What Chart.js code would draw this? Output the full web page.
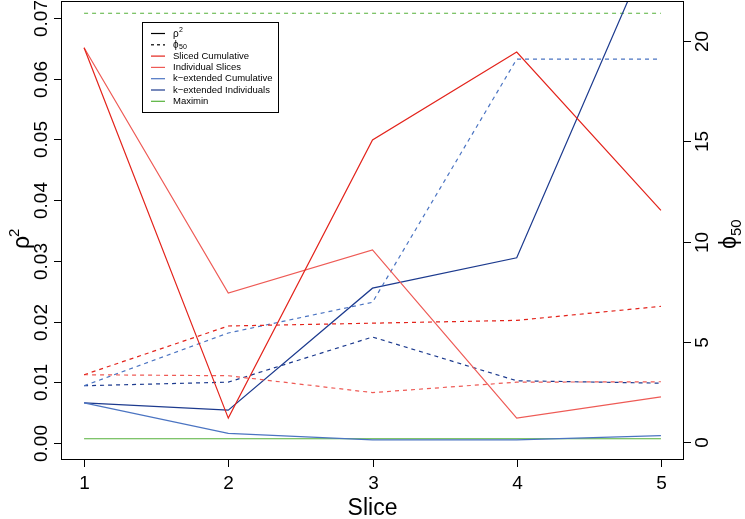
<!DOCTYPE html>
<html>
<head>
<meta charset="utf-8">
<script src="https://cdn.jsdelivr.net/npm/chart.js@4.4.1/dist/chart.umd.min.js"></script>
<style>
html,body{margin:0;padding:0;background:#fff;}
#wrap{width:745px;height:519px;}
</style>
</head>
<body>
<div id="wrap"><canvas id="grafico"></canvas></div>
<script>
// datos (rho^2 eje izq, phi50 eje der)
var slices = [1, 2, 3, 4, 5];

var rhoSlicedCum   = [0.0651, 0.0041, 0.0499, 0.0644, 0.0383];
var rhoIndivSlices = [0.0651, 0.0247, 0.0318, 0.0041, 0.0076];
var rhoKextCum     = [0.0066, 0.0016, 0.0005, 0.0005, 0.0012];
var rhoKextIndiv   = [0.0066, 0.0054, 0.0255, 0.0305, 0.0854];
var rhoMaximin     = [0.0007, 0.0007, 0.0007, 0.0007, 0.0007];

var phiSlicedCum   = [3.37, 5.80, 5.94, 6.08, 6.78];
var phiIndivSlices = [3.37, 3.32, 2.48, 3.00, 3.02];
var phiKextCum     = [2.82, 5.45, 6.98, 19.1, 19.1];
var phiKextIndiv   = [2.82, 3.00, 5.25, 3.07, 2.95];
var phiMaximin     = [21.39, 21.39, 21.39, 21.39, 21.39];

var xTicks   = [1, 2, 3, 4, 5];
var rhoTicks = ['0.00', '0.01', '0.02', '0.03', '0.04', '0.05', '0.06', '0.07'];
var phiTicks = ['0', '5', '10', '15', '20'];

var legendNames = ['Sliced Cumulative', 'Individual Slices', 'k\u2212extended Cumulative', 'k\u2212extended Individuals', 'Maximin'];
var colores = ['#E3231B', '#EE5A55', '#4B74C2', '#1C3A8E', '#55B13A'];

function pts(arr){
	var out = [];
	for (var i in arr) out.push({x: slices[i], y: arr[i]});
	return out;
}

function serie(arr, color, eje, dashed){
	return {
		data: pts(arr),
		borderColor: color,
		borderWidth: 1.2,
		borderDash: dashed ? [4, 4] : [],
		pointRadius: 0,
		tension: 0,
		fill: false,
		clip: 0,
		yAxisID: eje
	};
}

var rhoSeries = [rhoSlicedCum, rhoIndivSlices, rhoKextCum, rhoKextIndiv, rhoMaximin];
var phiSeries = [phiSlicedCum, phiIndivSlices, phiKextCum, phiKextIndiv, phiMaximin];
var datasets = [];
for (var i = 0; i < 5; i++) {
	datasets.push(serie(rhoSeries[i], colores[i], 'y', false));
	datasets.push(serie(phiSeries[i], colores[i], 'y2', true));
}

var FONT = '"Liberation Sans", Arial, Helvetica, sans-serif';

function rotText(ctx, txt, x, y){
	ctx.save();
	ctx.translate(x, y);
	ctx.rotate(-Math.PI / 2);
	ctx.fillText(txt, 0, 0);
	ctx.restore();
}

var dibujoR = {
	id: 'dibujoR',
	afterDraw: function(chart){
		var ctx = chart.ctx;
		var a = chart.chartArea;
		var sx = chart.scales.x, sy = chart.scales.y, sy2 = chart.scales.y2;
		ctx.save();
		ctx.strokeStyle = '#000';
		ctx.fillStyle = '#000';
		ctx.lineWidth = 1;
		ctx.setLineDash([]);
		// caja
		ctx.strokeRect(a.left + 0.5, a.top + 0.5, a.right - a.left - 1, a.bottom - a.top - 1);

		ctx.font = '19px ' + FONT;
		ctx.textAlign = 'center';
		ctx.textBaseline = 'middle';
		// eje x
		for (var i in xTicks) {
			var px = Math.round(sx.getPixelForValue(xTicks[i])) + 0.5;
			ctx.beginPath(); ctx.moveTo(px, a.bottom); ctx.lineTo(px, a.bottom + 7); ctx.stroke();
			ctx.fillText(String(xTicks[i]), px, a.bottom + 24);
		}
		// eje izq
		for (var j in rhoTicks) {
			var py = Math.round(sy.getPixelForValue(parseFloat(rhoTicks[j]))) + 0.5;
			ctx.beginPath(); ctx.moveTo(a.left - 7, py); ctx.lineTo(a.left, py); ctx.stroke();
			rotText(ctx, rhoTicks[j], a.left - 19, py);
		}
		// eje der
		for (var k in phiTicks) {
			var py2 = Math.round(sy2.getPixelForValue(parseFloat(phiTicks[k]))) + 0.5;
			ctx.beginPath(); ctx.moveTo(a.right, py2); ctx.lineTo(a.right + 7, py2); ctx.stroke();
			rotText(ctx, phiTicks[k], a.right + 19, py2);
		}

		// titulos
		ctx.font = '23px ' + FONT;
		ctx.fillText('Slice', (a.left + a.right) / 2, a.bottom + 49);

		// rho^2
		ctx.save();
		ctx.translate(20, 240);
		ctx.rotate(-Math.PI / 2);
		ctx.font = '23px ' + FONT;
		ctx.textAlign = 'left';
		ctx.fillText('\u03C1', -9, 3);
		ctx.font = '15px ' + FONT;
		ctx.fillText('2', 3, -5);
		ctx.restore();

		// phi50
		ctx.save();
		ctx.translate(732, 235);
		ctx.rotate(-Math.PI / 2);
		ctx.font = '23px ' + FONT;
		ctx.textAlign = 'left';
		ctx.fillText('\u03D5', -14, -2);
		ctx.font = '15px ' + FONT;
		ctx.fillText('50', -1, 5);
		ctx.restore();

		// leyenda
		var lx = 142, ly = 22, lw = 136, lh = 90;
		ctx.lineWidth = 1;
		ctx.strokeRect(lx + 0.5, ly + 0.5, lw, lh);
		var filas = [
			{txt: 'rho', color: '#000', dash: []},
			{txt: 'phi', color: '#000', dash: [3, 3]}
		];
		for (var n = 0; n < legendNames.length; n++) filas.push({txt: legendNames[n], color: colores[n], dash: []});
		ctx.textAlign = 'left';
		for (var r = 0; r < filas.length; r++) {
			var ry = 33.5 + r * 11.3;
			ctx.strokeStyle = filas[r].color;
			ctx.setLineDash(filas[r].dash);
			ctx.lineWidth = 1.2;
			ctx.beginPath(); ctx.moveTo(151, ry); ctx.lineTo(165, ry); ctx.stroke();
			ctx.fillStyle = '#000';
			if (filas[r].txt == 'rho') {
				ctx.font = '10px ' + FONT;
				ctx.fillText('\u03C1', 173, ry + 1);
				ctx.font = '7px ' + FONT;
				ctx.fillText('2', 179, ry - 3);
			} else if (filas[r].txt == 'phi') {
				ctx.font = '10px ' + FONT;
				ctx.fillText('\u03D5', 173, ry);
				ctx.font = '7px ' + FONT;
				ctx.fillText('50', 179, ry + 2);
			} else {
				ctx.font = '9.5px ' + FONT;
				ctx.fillText(filas[r].txt, 173, ry);
			}
		}
		ctx.restore();
	}
};

var config = {
	type: 'line',
	data: { datasets: datasets },
	options: {
		responsive: false,
		animation: false,
		layout: { padding: { left: 61, right: 61, top: 1, bottom: 59 } },
		plugins: { legend: { display: false }, tooltip: { enabled: false } },
		scales: {
			x: { type: 'linear', display: false, min: 0.84, max: 5.16 },
			y: { type: 'linear', display: false, position: 'left', min: -0.0028, max: 0.0728 },
			y2: { type: 'linear', display: false, position: 'right', min: -0.88, max: 22.0 }
		}
	},
	plugins: [dibujoR]
};

var cv = document.getElementById('grafico');
cv.width = 745; cv.height = 519;
window.myChart = new Chart(cv.getContext('2d'), config);
</script>
</body>
</html>
